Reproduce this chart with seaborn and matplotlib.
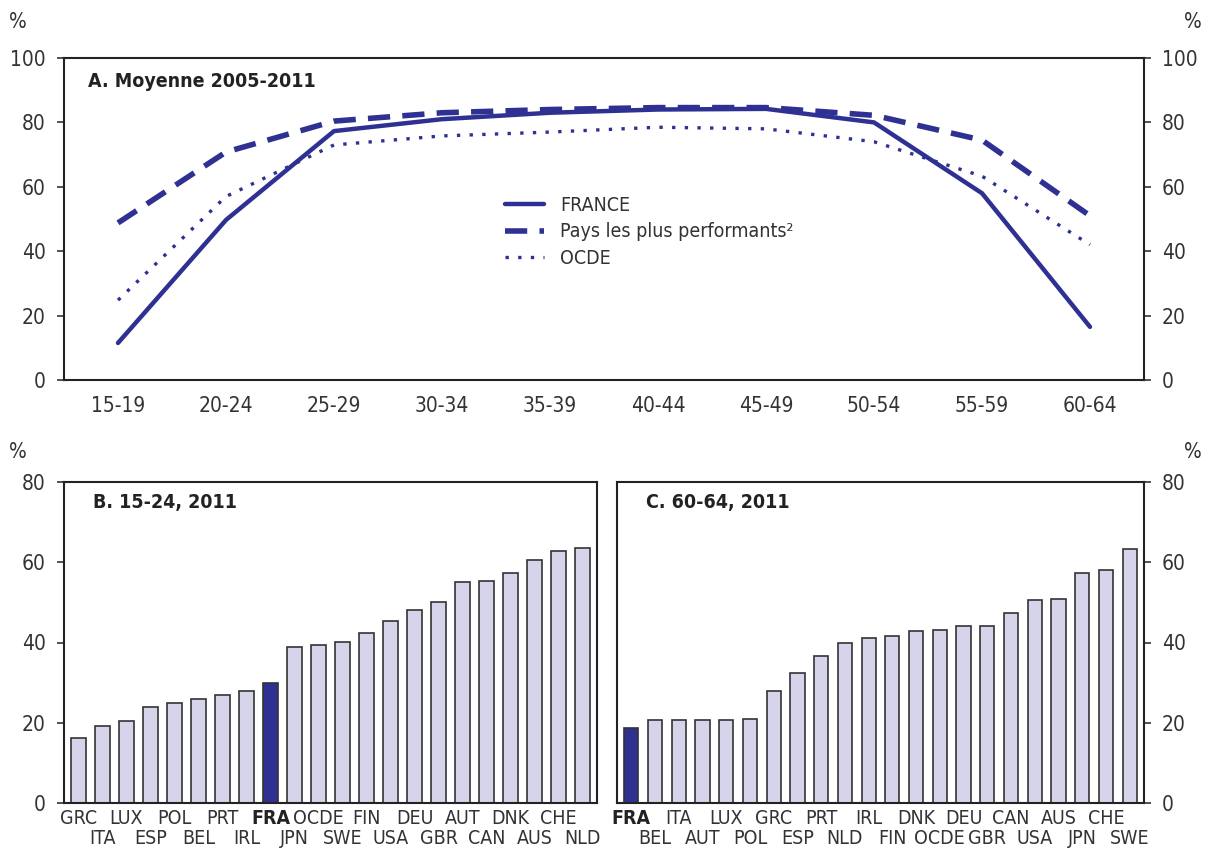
import numpy as np
import pandas as pd
import matplotlib.pyplot as plt
import seaborn as sns

# panel A - taux d'emploi par age, moyenne 2005-2011
age_groups = ['15-19', '20-24', '25-29', '30-34', '35-39', '40-44', '45-49', '50-54', '55-59', '60-64']
france = [11.5, 49.7, 77.3, 81.0, 83.0, 84.0, 84.2, 80.0, 58.0, 16.5]
best = [48.8, 70.8, 80.4, 83.0, 84.0, 84.6, 84.6, 82.2, 74.5, 51.0]
ocde = [24.8, 57.0, 73.0, 75.8, 77.0, 78.5, 78.0, 74.0, 63.3, 42.0]

# panel B - 15-24, 2011
countries_b = ['GRC', 'ITA', 'LUX', 'ESP', 'POL', 'BEL', 'PRT', 'IRL', 'FRA', 'JPN', 'OCDE',
               'SWE', 'FIN', 'USA', 'DEU', 'GBR', 'AUT', 'CAN', 'DNK', 'AUS', 'CHE', 'NLD']
values_b = [16.1, 19.3, 20.5, 24.0, 24.9, 25.9, 27.0, 28.0, 29.8, 38.9, 39.3,
            40.2, 42.4, 45.4, 48.1, 50.0, 55.0, 55.4, 57.4, 60.6, 62.8, 63.5]

# panel C - 60-64, 2011
countries_c = ['FRA', 'BEL', 'ITA', 'AUT', 'LUX', 'POL', 'GRC', 'ESP', 'PRT', 'NLD', 'IRL',
               'FIN', 'DNK', 'OCDE', 'DEU', 'GBR', 'CAN', 'USA', 'AUS', 'JPN', 'CHE', 'SWE']
values_c = [18.6, 20.8, 20.8, 20.8, 20.8, 21.0, 28.0, 32.5, 36.7, 40.0, 41.2,
            41.5, 42.8, 43.0, 44.1, 44.2, 47.3, 50.6, 50.9, 57.3, 58.1, 63.3]

navy = '#2e3192'
light = '#d5d4ea'
grey = '#333333'

sns.set_style('white')
plt.rcParams['font.family'] = ['DejaVu Sans']
plt.rcParams['font.stretch'] = 'condensed'
plt.rcParams['text.color'] = grey
plt.rcParams['xtick.color'] = grey
plt.rcParams['ytick.color'] = grey
plt.rcParams['axes.edgecolor'] = '#222222'

fig = plt.figure(figsize=(12.05, 8.49), dpi=100)
W, H = 1205, 849
FS = 15


def box(l, t, r, b):
    return [l / W, 1 - b / H, (r - l) / W, (b - t) / H]


# ---- panel A
ax = fig.add_axes(box(64, 58, 1144, 380))
df = pd.DataFrame({'age': age_groups, 'FRANCE': france,
                   'Pays les plus performants²': best, 'OCDE': ocde})
sns.lineplot(data=df, x='age', y='FRANCE', ax=ax, color=navy, lw=3.2, label='FRANCE')
sns.lineplot(data=df, x='age', y='Pays les plus performants²', ax=ax, color=navy, lw=4,
             dashes=(4, 2.2), label='Pays les plus performants²')
sns.lineplot(data=df, x='age', y='OCDE', ax=ax, color=navy, lw=2.4,
             dashes=(1, 2.8), label='OCDE')
ax.set_xlim(-0.5, 9.5)
ax.set_ylim(0, 100)
ax.set_yticks(range(0, 101, 20))
ax.set_xlabel('')
ax.set_ylabel('')
ax.tick_params(axis='y', left=True, right=True, labelright=True, length=5, width=1.2,
               labelsize=FS, pad=8)
ax.tick_params(axis='x', bottom=False, labelsize=FS, pad=8)
ax.text(0.022, 0.955, 'A. Moyenne 2005-2011', transform=ax.transAxes, fontsize=14,
        fontweight='bold', va='top', color='#222222')
leg = ax.legend(loc='center', bbox_to_anchor=(0.542, 0.46), frameon=False, fontsize=14,
                handlelength=2.0, labelspacing=0.4, handletextpad=0.8)
for s in ax.spines.values():
    s.set_linewidth(1.5)


def bars(ax, cats, vals, title):
    cols = [navy if c == 'FRA' else light for c in cats]
    sns.barplot(x=cats, y=vals, hue=cats, palette=cols, legend=False, ax=ax,
                width=0.6, edgecolor='#333333', linewidth=1.2, saturation=1)
    ax.set_xlim(-0.6, len(cats) - 0.4)
    ax.set_ylim(0, 80)
    ax.set_yticks(range(0, 81, 20))
    # alternate labels on two rows: even on major ticks, odd on minor ticks
    ax.set_xticks(range(0, len(cats), 2), cats[0::2])
    ax.set_xticks(range(1, len(cats), 2), cats[1::2], minor=True)
    for t in ax.get_xticklabels() + ax.get_xticklabels(minor=True):
        if t.get_text() == 'FRA':
            t.set_fontweight('bold')
            t.set_color('#222222')
    ax.tick_params(axis='x', which='major', bottom=False, labelsize=14, pad=0.5)
    ax.tick_params(axis='x', which='minor', bottom=False, labelsize=14, pad=17)
    ax.text(0.055, 0.965, title, transform=ax.transAxes, fontsize=14,
            fontweight='bold', va='top', color='#222222')
    for s in ax.spines.values():
        s.set_linewidth(1.5)


# ---- panel B
axb = fig.add_axes(box(64, 482, 597, 803))
bars(axb, countries_b, values_b, 'B. 15-24, 2011')
axb.tick_params(axis='y', left=True, length=5, width=1.2, labelsize=FS, pad=8)

# ---- panel C
axc = fig.add_axes(box(617, 482, 1144, 803))
bars(axc, countries_c, values_c, 'C. 60-64, 2011')
axc.tick_params(axis='y', left=False, right=True, labelleft=False, labelright=True,
                length=5, width=1.2, labelsize=FS, pad=8)

for x, y in [(18, 22), (1193, 22), (18, 452), (1193, 452)]:
    fig.text(x / W, 1 - y / H, '%', fontsize=FS, ha='center', va='center')

fig.savefig('out.png', dpi=100)
